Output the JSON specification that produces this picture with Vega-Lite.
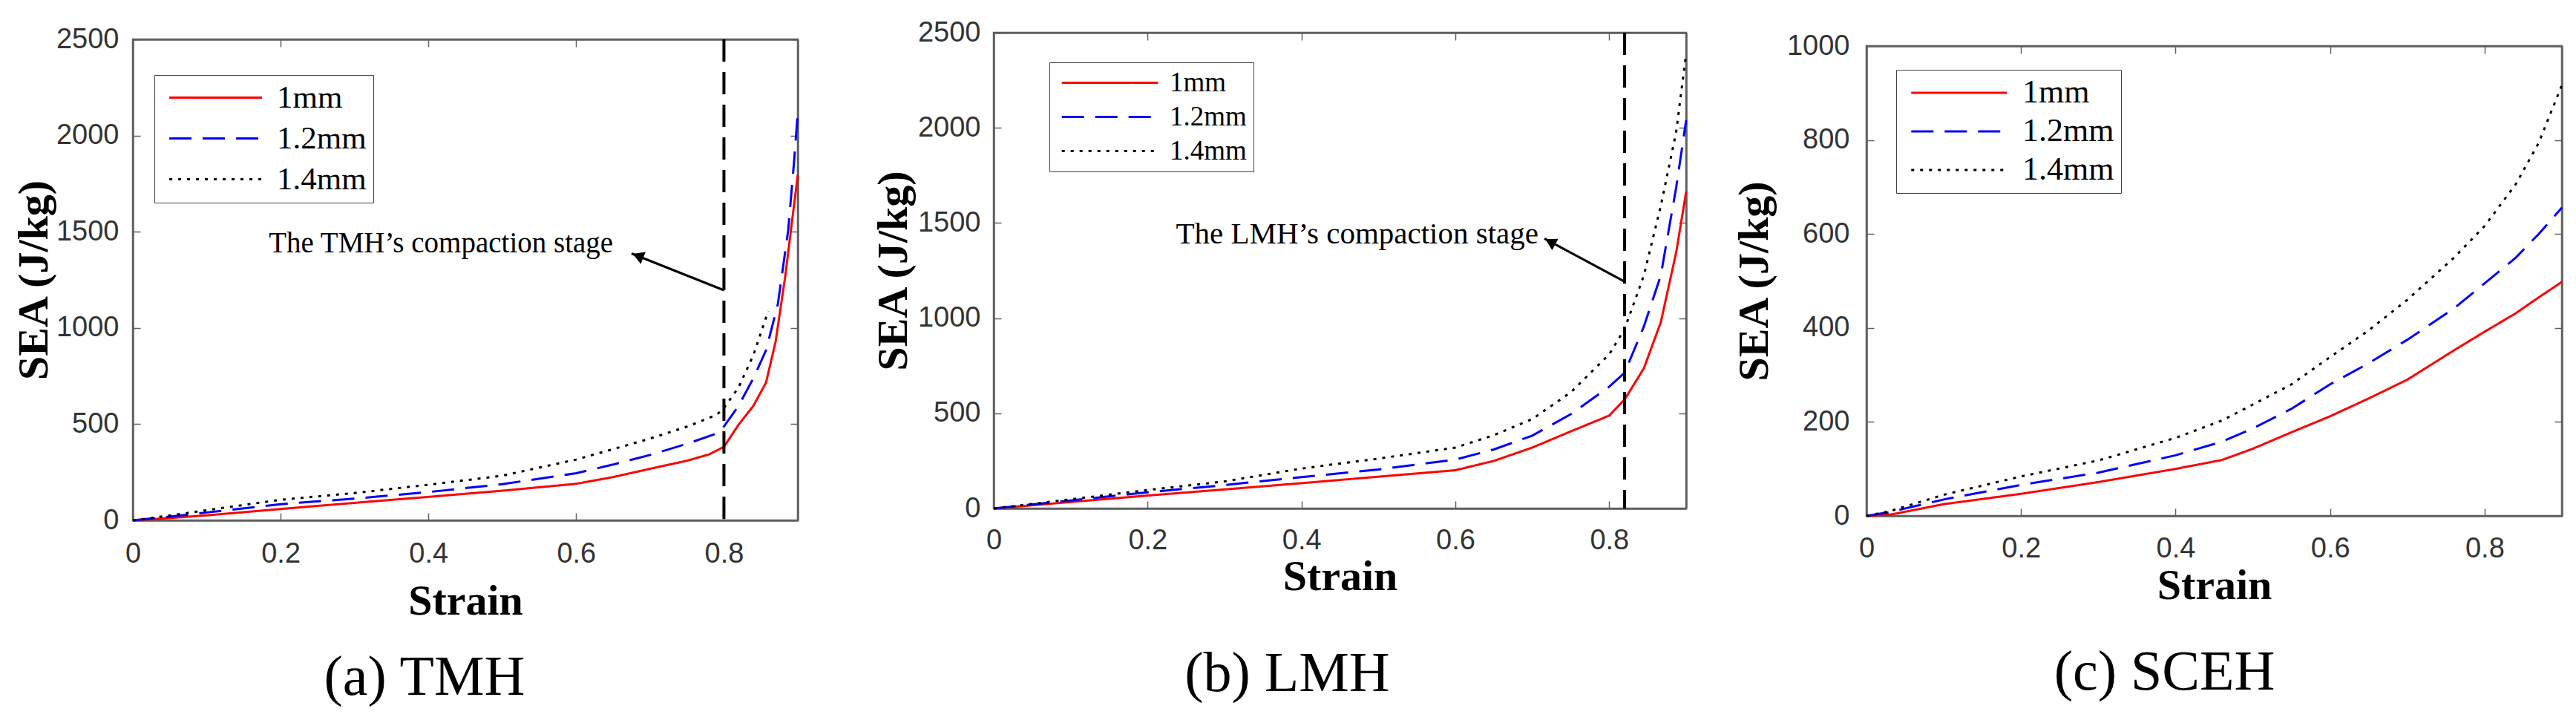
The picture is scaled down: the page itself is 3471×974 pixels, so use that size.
{
  "$schema": "https://vega.github.io/schema/vega-lite/v6.json",
  "background": "white",
  "padding": {"left": 16, "top": 11, "right": 0, "bottom": 0},
  "config": {
    "view": {"stroke": "#606060", "strokeWidth": 2.5},
    "axis": {"grid": false, "tickSize": -10, "domainColor": "#606060", "tickColor": "#606060", "domainWidth": 2.5, "tickWidth": 1.5, "labelFont": "Liberation Sans", "labelFontSize": 38, "labelColor": "#333333", "titleFont": "Liberation Serif", "titleFontSize": 58, "titleFontWeight": "bold", "titleColor": "black", "labelFlush": false, "labelOverlap": false, "labelBound": false}
  },
  "datasets": {
    "a": [
      {"t":"1mm","strain":0,"sea":0},{"t":"1mm","strain":0.05,"sea":12},{"t":"1mm","strain":0.1,"sea":26},{"t":"1mm","strain":0.2,"sea":59},{"t":"1mm","strain":0.3,"sea":91},{"t":"1mm","strain":0.4,"sea":122},{"t":"1mm","strain":0.5,"sea":154},{"t":"1mm","strain":0.6,"sea":190},{"t":"1mm","strain":0.65,"sea":225},{"t":"1mm","strain":0.7,"sea":268},{"t":"1mm","strain":0.75,"sea":310},{"t":"1mm","strain":0.78,"sea":343},{"t":"1mm","strain":0.8,"sea":382},{"t":"1mm","strain":0.82,"sea":498},{"t":"1mm","strain":0.84,"sea":596},{"t":"1mm","strain":0.857,"sea":716},{"t":"1mm","strain":0.87,"sea":930},{"t":"1mm","strain":0.883,"sea":1268},{"t":"1mm","strain":0.893,"sea":1580},{"t":"1mm","strain":0.9,"sea":1796},
      {"t":"1.2mm","strain":0,"sea":0},{"t":"1.2mm","strain":0.05,"sea":19},{"t":"1.2mm","strain":0.1,"sea":41},{"t":"1.2mm","strain":0.2,"sea":84},{"t":"1.2mm","strain":0.3,"sea":113},{"t":"1.2mm","strain":0.4,"sea":147},{"t":"1.2mm","strain":0.5,"sea":188},{"t":"1.2mm","strain":0.6,"sea":245},{"t":"1.2mm","strain":0.65,"sea":290},{"t":"1.2mm","strain":0.7,"sea":340},{"t":"1.2mm","strain":0.75,"sea":398},{"t":"1.2mm","strain":0.79,"sea":451},{"t":"1.2mm","strain":0.8,"sea":488},{"t":"1.2mm","strain":0.82,"sea":596},{"t":"1.2mm","strain":0.84,"sea":740},{"t":"1.2mm","strain":0.857,"sea":884},{"t":"1.2mm","strain":0.873,"sea":1124},{"t":"1.2mm","strain":0.887,"sea":1508},{"t":"1.2mm","strain":0.895,"sea":1868},{"t":"1.2mm","strain":0.9,"sea":2121},
      {"t":"1.4mm","strain":0,"sea":0},{"t":"1.4mm","strain":0.05,"sea":25},{"t":"1.4mm","strain":0.1,"sea":53},{"t":"1.4mm","strain":0.2,"sea":107},{"t":"1.4mm","strain":0.3,"sea":142},{"t":"1.4mm","strain":0.4,"sea":185},{"t":"1.4mm","strain":0.5,"sea":232},{"t":"1.4mm","strain":0.6,"sea":316},{"t":"1.4mm","strain":0.65,"sea":370},{"t":"1.4mm","strain":0.7,"sea":425},{"t":"1.4mm","strain":0.75,"sea":487},{"t":"1.4mm","strain":0.79,"sea":548},{"t":"1.4mm","strain":0.8,"sea":584},{"t":"1.4mm","strain":0.82,"sea":692},{"t":"1.4mm","strain":0.84,"sea":860},{"t":"1.4mm","strain":0.86,"sea":1088}
    ],
    "b": [
      {"t":"1mm","strain":0,"sea":0},{"t":"1mm","strain":0.05,"sea":17},{"t":"1mm","strain":0.1,"sea":34},{"t":"1mm","strain":0.2,"sea":68},{"t":"1mm","strain":0.3,"sea":100},{"t":"1mm","strain":0.4,"sea":133},{"t":"1mm","strain":0.5,"sea":167},{"t":"1mm","strain":0.6,"sea":201},{"t":"1mm","strain":0.65,"sea":250},{"t":"1mm","strain":0.7,"sea":320},{"t":"1mm","strain":0.75,"sea":405},{"t":"1mm","strain":0.8,"sea":488},{"t":"1mm","strain":0.82,"sea":573},{"t":"1mm","strain":0.845,"sea":736},{"t":"1mm","strain":0.867,"sea":978},{"t":"1mm","strain":0.887,"sea":1345},{"t":"1mm","strain":0.9,"sea":1664},
      {"t":"1.2mm","strain":0,"sea":0},{"t":"1.2mm","strain":0.05,"sea":21},{"t":"1.2mm","strain":0.1,"sea":42},{"t":"1.2mm","strain":0.2,"sea":85},{"t":"1.2mm","strain":0.3,"sea":123},{"t":"1.2mm","strain":0.4,"sea":165},{"t":"1.2mm","strain":0.5,"sea":205},{"t":"1.2mm","strain":0.6,"sea":257},{"t":"1.2mm","strain":0.65,"sea":310},{"t":"1.2mm","strain":0.7,"sea":383},{"t":"1.2mm","strain":0.75,"sea":495},{"t":"1.2mm","strain":0.8,"sea":640},{"t":"1.2mm","strain":0.82,"sea":713},{"t":"1.2mm","strain":0.845,"sea":956},{"t":"1.2mm","strain":0.867,"sea":1224},{"t":"1.2mm","strain":0.887,"sea":1686},{"t":"1.2mm","strain":0.9,"sea":2040},
      {"t":"1.4mm","strain":0,"sea":0},{"t":"1.4mm","strain":0.05,"sea":24},{"t":"1.4mm","strain":0.1,"sea":48},{"t":"1.4mm","strain":0.2,"sea":97},{"t":"1.4mm","strain":0.3,"sea":142},{"t":"1.4mm","strain":0.4,"sea":210},{"t":"1.4mm","strain":0.5,"sea":262},{"t":"1.4mm","strain":0.6,"sea":320},{"t":"1.4mm","strain":0.65,"sea":385},{"t":"1.4mm","strain":0.7,"sea":470},{"t":"1.4mm","strain":0.75,"sea":610},{"t":"1.4mm","strain":0.8,"sea":810},{"t":"1.4mm","strain":0.82,"sea":943},{"t":"1.4mm","strain":0.845,"sea":1224},{"t":"1.4mm","strain":0.867,"sea":1589},{"t":"1.4mm","strain":0.887,"sea":1978},{"t":"1.4mm","strain":0.9,"sea":2391}
    ],
    "c": [
      {"t":"1mm","strain":0,"sea":0},{"t":"1mm","strain":0.032,"sea":3},{"t":"1mm","strain":0.1,"sea":25},{"t":"1mm","strain":0.2,"sea":47},{"t":"1mm","strain":0.3,"sea":72},{"t":"1mm","strain":0.4,"sea":100},{"t":"1mm","strain":0.46,"sea":119},{"t":"1mm","strain":0.5,"sea":143},{"t":"1mm","strain":0.55,"sea":178},{"t":"1mm","strain":0.6,"sea":212},{"t":"1mm","strain":0.65,"sea":250},{"t":"1mm","strain":0.7,"sea":290},{"t":"1mm","strain":0.76,"sea":352},{"t":"1mm","strain":0.8,"sea":392},{"t":"1mm","strain":0.84,"sea":431},{"t":"1mm","strain":0.87,"sea":465},{"t":"1mm","strain":0.9,"sea":498},
      {"t":"1.2mm","strain":0,"sea":0},{"t":"1.2mm","strain":0.03,"sea":8},{"t":"1.2mm","strain":0.1,"sea":35},{"t":"1.2mm","strain":0.2,"sea":66},{"t":"1.2mm","strain":0.3,"sea":92},{"t":"1.2mm","strain":0.4,"sea":129},{"t":"1.2mm","strain":0.46,"sea":158},{"t":"1.2mm","strain":0.5,"sea":186},{"t":"1.2mm","strain":0.55,"sea":228},{"t":"1.2mm","strain":0.6,"sea":280},{"t":"1.2mm","strain":0.65,"sea":325},{"t":"1.2mm","strain":0.7,"sea":375},{"t":"1.2mm","strain":0.76,"sea":441},{"t":"1.2mm","strain":0.8,"sea":495},{"t":"1.2mm","strain":0.84,"sea":549},{"t":"1.2mm","strain":0.87,"sea":600},{"t":"1.2mm","strain":0.9,"sea":656},
      {"t":"1.4mm","strain":0,"sea":0},{"t":"1.4mm","strain":0.03,"sea":10},{"t":"1.4mm","strain":0.1,"sea":45},{"t":"1.4mm","strain":0.2,"sea":84},{"t":"1.4mm","strain":0.3,"sea":118},{"t":"1.4mm","strain":0.4,"sea":166},{"t":"1.4mm","strain":0.46,"sea":203},{"t":"1.4mm","strain":0.5,"sea":237},{"t":"1.4mm","strain":0.55,"sea":280},{"t":"1.4mm","strain":0.6,"sea":338},{"t":"1.4mm","strain":0.65,"sea":395},{"t":"1.4mm","strain":0.7,"sea":460},{"t":"1.4mm","strain":0.76,"sea":549},{"t":"1.4mm","strain":0.8,"sea":617},{"t":"1.4mm","strain":0.84,"sea":705},{"t":"1.4mm","strain":0.87,"sea":794},{"t":"1.4mm","strain":0.9,"sea":917}
    ]
  },
  "spacing": 54,
  "resolve": {"scale": {"color": "independent", "strokeDash": "independent"}, "legend": {"color": "independent", "strokeDash": "independent"}},
  "hconcat": [
    {
      "spacing": 91,
      "resolve": {"scale": {"color": "independent", "strokeDash": "independent"}, "legend": {"color": "independent", "strokeDash": "independent"}},
      "hconcat": [
        {
          "spacing": 0,
          "resolve": {"scale": {"color": "independent", "strokeDash": "independent"}, "legend": {"color": "independent", "strokeDash": "independent"}},
          "vconcat": [
            {"width": 10, "height": 15, "view": {"stroke": null}, "data": {"values": [{}]}, "mark": {"type": "text", "text": ""}, "encoding": {}},
            {
              "width": 896, "height": 648,
              "title": {"text": "(a) TMH", "orient": "bottom", "anchor": "middle", "frame": "group", "dx": -55, "offset": 37, "font": "Liberation Serif", "fontSize": 76, "fontWeight": "normal", "color": "black"},
              "resolve": {"axis": {"x": "independent", "y": "independent"}},
              "layer": [
                {
                  "data": {"name": "a"},
                  "mark": {"type": "line", "strokeWidth": 3},
                  "encoding": {
                    "x": {"field": "strain", "type": "quantitative", "scale": {"domain": [0, 0.9], "nice": false, "zero": false}, "axis": {"orient": "bottom", "title": "Strain", "values": [0, 0.2, 0.4, 0.6, 0.8], "format": ".1~f", "labelPadding": 36, "titlePadding": 16}},
                    "y": {"field": "sea", "type": "quantitative", "scale": {"domain": [0, 2500], "nice": false}, "axis": {"orient": "left", "title": "SEA (J/kg)", "values": [0, 500, 1000, 1500, 2000, 2500], "format": "d", "labelPadding": 29, "titlePadding": 0}},
                    "color": {"field": "t", "type": "nominal", "scale": {"domain": ["1mm", "1.2mm", "1.4mm"], "range": ["#ff0000", "#0000ff", "#000000"]},
                      "legend": {"orient": "none", "legendX": 29, "legendY": 48, "title": null, "symbolType": "M-1,0H11", "symbolSize": 434, "symbolStrokeWidth": 3, "symbolFillColor": "transparent", "labelFont": "Liberation Serif", "labelFontSize": 43, "labelColor": "black", "labelOffset": 113, "rowPadding": 11, "padding": 9, "strokeColor": "#404040", "fillColor": "white"}},
                    "strokeDash": {"field": "t", "type": "nominal", "scale": {"domain": ["1mm", "1.2mm", "1.4mm"], "range": [[1, 0], [30, 15], [4, 8]]},
                      "legend": {"orient": "none", "legendX": 29, "legendY": 48, "title": null, "symbolType": "M-1,0H11", "symbolSize": 434, "symbolStrokeWidth": 3, "symbolFillColor": "transparent", "labelFont": "Liberation Serif", "labelFontSize": 43, "labelColor": "black", "labelOffset": 113, "rowPadding": 11, "padding": 9, "strokeColor": "#404040", "fillColor": "white"}}
                  }
                },
                {
                  "data": {"values": [{"strain": 0.8}]},
                  "mark": {"type": "rule", "color": "black", "strokeWidth": 4, "strokeDash": [30, 14]},
                  "encoding": {"x": {"field": "strain", "type": "quantitative", "axis": null}}
                },
                {
                  "data": {"values": [{"strain": 0.8, "sea": 1196, "strain2": 0.675, "sea2": 1387}]},
                  "mark": {"type": "rule", "color": "black", "strokeWidth": 3},
                  "encoding": {"x": {"field": "strain", "type": "quantitative", "axis": null}, "y": {"field": "sea", "type": "quantitative", "axis": null}, "x2": {"field": "strain2"}, "y2": {"field": "sea2"}}
                },
                {
                  "data": {"values": [{"strain": 0.6837, "sea": 1374}]},
                  "mark": {"type": "point", "shape": "triangle-left", "angle": 21.6, "size": 300, "filled": true, "color": "black", "opacity": 1},
                  "encoding": {"x": {"field": "strain", "type": "quantitative", "axis": null}, "y": {"field": "sea", "type": "quantitative", "axis": null}}
                },
                {
                  "data": {"values": [{"strain": 0.65, "sea": 1392, "label": "The TMH’s compaction stage"}]},
                  "mark": {"type": "text", "align": "right", "baseline": "alphabetic", "font": "Liberation Serif", "fontSize": 39, "color": "black"},
                  "encoding": {"x": {"field": "strain", "type": "quantitative", "axis": null}, "y": {"field": "sea", "type": "quantitative", "axis": null}, "text": {"field": "label"}}
                },
                {
                  "mark": {"type": "point", "opacity": 0},
                  "encoding": {
                    "x": {"datum": 0, "type": "quantitative", "axis": {"orient": "top", "labels": false, "values": [0, 0.2, 0.4, 0.6, 0.8], "title": null}},
                    "y": {"datum": 0, "type": "quantitative", "axis": {"orient": "right", "labels": false, "values": [0, 500, 1000, 1500, 2000, 2500], "title": null}}
                  }
                }
              ]
            }
          ]
        },
        {
          "spacing": 0,
          "resolve": {"scale": {"color": "independent", "strokeDash": "independent"}, "legend": {"color": "independent", "strokeDash": "independent"}},
          "vconcat": [
            {"width": 10, "height": 1, "view": {"stroke": null}, "data": {"values": [{}]}, "mark": {"type": "text", "text": ""}, "encoding": {}},
            {
              "width": 933, "height": 641,
              "title": {"text": "(b) LMH", "orient": "bottom", "anchor": "middle", "frame": "group", "dx": -71, "offset": 65, "font": "Liberation Serif", "fontSize": 76, "fontWeight": "normal", "color": "black"},
              "resolve": {"axis": {"x": "independent", "y": "independent"}},
              "layer": [
                {
                  "data": {"name": "b"},
                  "mark": {"type": "line", "strokeWidth": 3},
                  "encoding": {
                    "x": {"field": "strain", "type": "quantitative", "scale": {"domain": [0, 0.9], "nice": false, "zero": false}, "axis": {"orient": "bottom", "title": "Strain", "values": [0, 0.2, 0.4, 0.6, 0.8], "format": ".1~f", "labelPadding": 34, "titlePadding": 1}},
                    "y": {"field": "sea", "type": "quantitative", "scale": {"domain": [0, 2500], "nice": false}, "axis": {"orient": "left", "title": "SEA (J/kg)", "values": [0, 500, 1000, 1500, 2000, 2500], "format": "d", "labelPadding": 28, "titlePadding": 3}},
                    "color": {"field": "t", "type": "nominal", "scale": {"domain": ["1mm", "1.2mm", "1.4mm"], "range": ["#ff0000", "#0000ff", "#000000"]},
                      "legend": {"orient": "none", "legendX": 75, "legendY": 40, "title": null, "symbolType": "M-1,0H11", "symbolSize": 467, "symbolStrokeWidth": 3, "symbolFillColor": "transparent", "labelFont": "Liberation Serif", "labelFontSize": 37, "labelColor": "black", "labelOffset": 116, "rowPadding": 8, "padding": 9, "strokeColor": "#404040", "fillColor": "white"}},
                    "strokeDash": {"field": "t", "type": "nominal", "scale": {"domain": ["1mm", "1.2mm", "1.4mm"], "range": [[1, 0], [30, 15], [4, 8]]},
                      "legend": {"orient": "none", "legendX": 75, "legendY": 40, "title": null, "symbolType": "M-1,0H11", "symbolSize": 467, "symbolStrokeWidth": 3, "symbolFillColor": "transparent", "labelFont": "Liberation Serif", "labelFontSize": 37, "labelColor": "black", "labelOffset": 116, "rowPadding": 8, "padding": 9, "strokeColor": "#404040", "fillColor": "white"}}
                  }
                },
                {
                  "data": {"values": [{"strain": 0.82}]},
                  "mark": {"type": "rule", "color": "black", "strokeWidth": 4, "strokeDash": [30, 14]},
                  "encoding": {"x": {"field": "strain", "type": "quantitative", "axis": null}}
                },
                {
                  "data": {"values": [{"strain": 0.82, "sea": 1192, "strain2": 0.7158, "sea2": 1418}]},
                  "mark": {"type": "rule", "color": "black", "strokeWidth": 3},
                  "encoding": {"x": {"field": "strain", "type": "quantitative", "axis": null}, "y": {"field": "sea", "type": "quantitative", "axis": null}, "x2": {"field": "strain2"}, "y2": {"field": "sea2"}}
                },
                {
                  "data": {"values": [{"strain": 0.7234, "sea": 1401}]},
                  "mark": {"type": "point", "shape": "triangle-left", "angle": 28.2, "size": 300, "filled": true, "color": "black", "opacity": 1},
                  "encoding": {"x": {"field": "strain", "type": "quantitative", "axis": null}, "y": {"field": "sea", "type": "quantitative", "axis": null}}
                },
                {
                  "data": {"values": [{"strain": 0.708, "sea": 1394, "label": "The LMH’s compaction stage"}]},
                  "mark": {"type": "text", "align": "right", "baseline": "alphabetic", "font": "Liberation Serif", "fontSize": 41, "color": "black"},
                  "encoding": {"x": {"field": "strain", "type": "quantitative", "axis": null}, "y": {"field": "sea", "type": "quantitative", "axis": null}, "text": {"field": "label"}}
                },
                {
                  "mark": {"type": "point", "opacity": 0},
                  "encoding": {
                    "x": {"datum": 0, "type": "quantitative", "axis": {"orient": "top", "labels": false, "values": [0, 0.2, 0.4, 0.6, 0.8], "title": null}},
                    "y": {"datum": 0, "type": "quantitative", "axis": {"orient": "right", "labels": false, "values": [0, 500, 1000, 1500, 2000, 2500], "title": null}}
                  }
                }
              ]
            }
          ]
        }
      ]
    },
    {
      "spacing": 0,
      "resolve": {"scale": {"color": "independent", "strokeDash": "independent"}, "legend": {"color": "independent", "strokeDash": "independent"}},
      "vconcat": [
        {"width": 10, "height": 24, "view": {"stroke": null}, "data": {"values": [{}]}, "mark": {"type": "text", "text": ""}, "encoding": {}},
        {
          "width": 937, "height": 633,
          "title": {"text": "(c) SCEH", "orient": "bottom", "anchor": "middle", "frame": "group", "dx": -67, "offset": 51, "font": "Liberation Serif", "fontSize": 76, "fontWeight": "normal", "color": "black"},
          "resolve": {"axis": {"x": "independent", "y": "independent"}},
          "layer": [
            {
              "data": {"name": "c"},
              "mark": {"type": "line", "strokeWidth": 3},
              "encoding": {
                "x": {"field": "strain", "type": "quantitative", "scale": {"domain": [0, 0.9], "nice": false, "zero": false}, "axis": {"orient": "bottom", "title": "Strain", "values": [0, 0.2, 0.4, 0.6, 0.8], "format": ".1~f", "labelPadding": 35, "titlePadding": 2}},
                "y": {"field": "sea", "type": "quantitative", "scale": {"domain": [0, 1000], "nice": false}, "axis": {"orient": "left", "title": "SEA (J/kg)", "values": [0, 200, 400, 600, 800, 1000], "format": "d", "labelPadding": 33, "titlePadding": 14}},
                "color": {"field": "t", "type": "nominal", "scale": {"domain": ["1mm", "1.2mm", "1.4mm"], "range": ["#ff0000", "#0000ff", "#000000"]},
                  "legend": {"orient": "none", "legendX": 40, "legendY": 32, "title": null, "symbolType": "M-1,0H11", "symbolSize": 462, "symbolStrokeWidth": 3, "symbolFillColor": "transparent", "labelFont": "Liberation Serif", "labelFontSize": 44, "labelColor": "black", "labelOffset": 117, "rowPadding": 8, "padding": 9, "strokeColor": "#404040", "fillColor": "white"}},
                "strokeDash": {"field": "t", "type": "nominal", "scale": {"domain": ["1mm", "1.2mm", "1.4mm"], "range": [[1, 0], [30, 15], [4, 8]]},
                  "legend": {"orient": "none", "legendX": 40, "legendY": 32, "title": null, "symbolType": "M-1,0H11", "symbolSize": 462, "symbolStrokeWidth": 3, "symbolFillColor": "transparent", "labelFont": "Liberation Serif", "labelFontSize": 44, "labelColor": "black", "labelOffset": 117, "rowPadding": 8, "padding": 9, "strokeColor": "#404040", "fillColor": "white"}}
              }
            },
            {
              "mark": {"type": "point", "opacity": 0},
              "encoding": {
                "x": {"datum": 0, "type": "quantitative", "axis": {"orient": "top", "labels": false, "values": [0, 0.2, 0.4, 0.6, 0.8], "title": null}},
                "y": {"datum": 0, "type": "quantitative", "axis": {"orient": "right", "labels": false, "values": [0, 200, 400, 600, 800, 1000], "title": null}}
              }
            }
          ]
        }
      ]
    }
  ]
}
